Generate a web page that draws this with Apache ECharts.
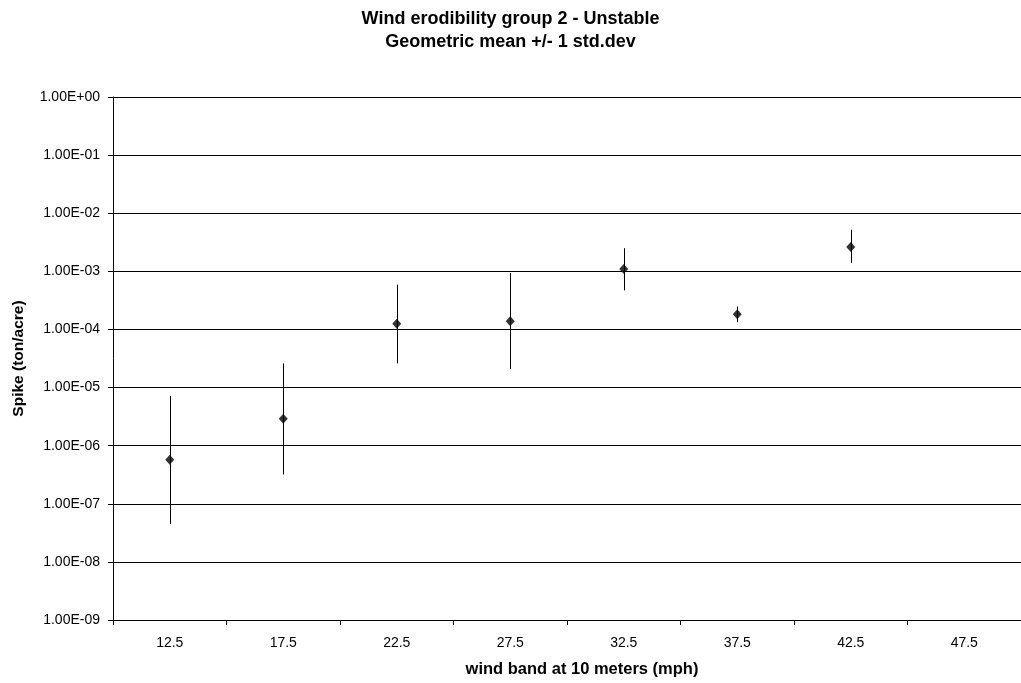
<!DOCTYPE html>
<html>
<head>
<meta charset="utf-8">
<script src="https://cdn.jsdelivr.net/npm/echarts@6/dist/echarts.min.js"></script>
<style>
html,body{margin:0;padding:0;background:#fff;}
#chart{width:1021px;height:683px;}
</style>
</head>
<body>
<div id="chart"></div>
<script>
var categories = ['12.5','17.5','22.5','27.5','32.5','37.5','42.5','47.5'];
var meanValues = [5.7e-7, 2.9e-6, 1.25e-4, 1.39e-4, 1.1e-3, 1.83e-4, 2.63e-3, null];
var lowValues  = [4.5e-8, 3.2e-7, 2.6e-5, 2.1e-5, 4.7e-4, 1.33e-4, 1.4e-3, null];
var highValues = [7.2e-6, 2.6e-5, 5.9e-4, 9.4e-4, 2.5e-3, 2.48e-4, 5.2e-3, null];

var errData = [];
for (var i = 0; i < categories.length; i++) {
  if (lowValues[i] != null) errData.push([i, lowValues[i], highValues[i]]);
}

function fmtExp(v) {
  var e = Math.round(Math.log10(v));
  var m = v / Math.pow(10, e);
  var s = (e < 0 ? '-' : '+') + (Math.abs(e) < 10 ? '0' : '') + Math.abs(e);
  return m.toFixed(2) + 'E' + s;
}

var FONT = 'Liberation Sans';
var chart = echarts.init(document.getElementById('chart'));
chart.setOption({
  animation: false,
  backgroundColor: '#fff',
  textStyle: { fontFamily: FONT, color: '#000' },
  title: {
    text: 'Wind erodibility group 2 - Unstable\nGeometric mean +/- 1 std.dev',
    left: 'center',
    top: 3,
    textStyle: { fontFamily: FONT, fontSize: 18, fontWeight: 'bold', color: '#000', lineHeight: 23 }
  },
  grid: { left: 113, top: 97, width: 910, height: 524, containLabel: false },
  xAxis: {
    type: 'category',
    data: categories,
    boundaryGap: true,
    name: 'wind band at 10 meters (mph)',
    nameLocation: 'middle',
    nameGap: 41,
    nameTextStyle: { fontFamily: FONT, fontSize: 16.5, fontWeight: 'bold', color: '#000', padding: [0, 0, 0, 30] },
    axisLine: { lineStyle: { color: '#000', width: 1 } },
    axisTick: { show: true, length: 5, lineStyle: { color: '#000' } },
    axisLabel: { fontFamily: FONT, fontSize: 14, color: '#000', margin: 16 },
    splitLine: { show: false }
  },
  yAxis: {
    type: 'log',
    logBase: 10,
    min: 1e-9,
    max: 1,
    interval: 1,
    splitNumber: 9,
    name: 'Spike (ton/acre)',
    nameLocation: 'middle',
    nameGap: 86,
    nameTextStyle: { fontFamily: FONT, fontSize: 15.5, fontWeight: 'bold', color: '#000' },
    axisLine: { show: true, lineStyle: { color: '#000', width: 1 } },
    axisTick: { show: true, length: 5, lineStyle: { color: '#000' } },
    axisLabel: { fontFamily: FONT, fontSize: 14, color: '#000', margin: 13, formatter: fmtExp },
    splitLine: { show: true, lineStyle: { color: '#000', width: 1 } }
  },
  series: [
    {
      type: 'custom',
      data: errData,
      z: 2,
      renderItem: function (params, api) {
        var x = api.value(0);
        var p1 = api.coord([x, api.value(1)]);
        var p2 = api.coord([x, api.value(2)]);
        return {
          type: 'line',
          shape: { x1: Math.round(p1[0]) + 0.5, y1: p1[1], x2: Math.round(p2[0]) + 0.5, y2: p2[1] },
          style: { stroke: '#000', lineWidth: 1 }
        };
      }
    },
    {
      type: 'scatter',
      data: meanValues,
      symbol: 'diamond',
      symbolSize: [9, 10],
      itemStyle: { color: '#000' },
      z: 3
    }
  ]
});
</script>
</body>
</html>
